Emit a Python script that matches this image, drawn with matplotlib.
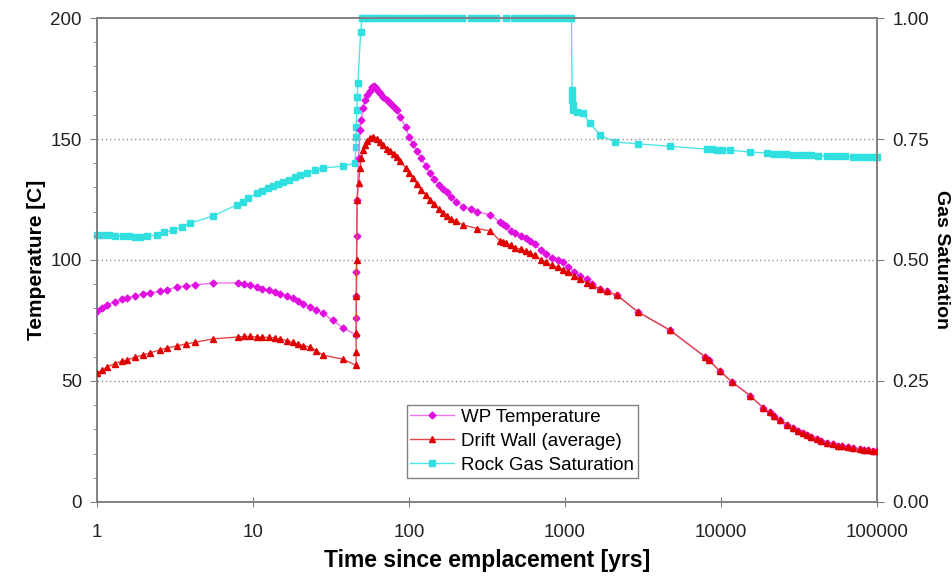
import numpy as np
import matplotlib
matplotlib.use("Agg")
import matplotlib.pyplot as plt
from matplotlib.ticker import FixedLocator, MultipleLocator, NullLocator, FormatStrFormatter

plt.rcParams['font.family'] = ['Liberation Sans', 'DejaVu Sans']

# WP temperature (magenta diamonds)
wp_t = [1.0, 1.08, 1.16, 1.3, 1.45, 1.56, 1.75, 1.97, 2.2, 2.53, 2.8, 3.26, 3.7, 4.25, 5.54, 8.0, 8.8, 9.6,
        10.6, 11.5, 12.6, 13.8, 15.0, 16.5, 18.0, 19.5, 21.0, 23.2, 25.5, 28.1, 32.6, 37.7, 45.7,
        45.8, 45.9, 46.0, 46.2, 46.5, 47.5, 48.5, 49.5, 50.7, 52.0, 54.0, 56.0, 57.9, 59.5, 61.0, 63.0, 65.2,
        68.0, 72.0, 75.0, 78.0, 81.0, 83.8, 88.0, 95.0, 100, 106, 112, 120, 128, 136, 145,
        155, 165, 175, 187, 200, 222, 250, 273, 331, 383, 400, 420, 450, 480, 520, 560, 597, 640, 700, 760,
        820, 900, 971, 1050, 1150, 1250, 1384, 1500, 1676, 1850, 2154, 2938, 4710, 7890, 8400, 9860, 11770,
        15340, 18580, 20500, 22000, 24000, 26500, 29000, 31000, 33500, 35560, 38000, 41000, 44000, 47800,
        52000, 56000, 60000, 65000, 70000, 77800, 83000, 88000, 94000, 100000]
wp_temp = [79, 80.2, 81.4, 82.8, 83.8, 84.3, 85.2, 86, 86.5, 87, 87.8, 88.8, 89.2, 89.7, 90.5, 90.5, 90.1, 89.5,
           88.8, 88.2, 87.5, 86.8, 86.0, 85.2, 84.3, 83.2, 82.0, 80.6, 79.3, 78, 75, 72, 69,
           76, 85, 95, 110, 125, 142, 153.7, 158, 163, 166, 168, 170, 171.5, 171.8, 171, 170, 169,
           167.5, 166, 165, 164, 163, 162, 159, 155, 151, 148, 145, 142, 139, 136, 133.5,
           131, 129.5, 128, 126, 124, 122, 121, 120, 118.6, 115.7, 115, 114, 112, 111, 110, 109, 108, 106.5, 104, 102.5,
           101, 100, 99, 97, 95, 93.5, 92, 90, 88, 87, 85.5, 78.5, 71, 60, 58.5, 54, 49.6,
           44, 39, 37, 35.5, 34, 32, 30.5, 29.5, 28.5, 27.7, 27, 26, 25.2, 24.4,
           23.8, 23.3, 23, 22.6, 22.2, 21.8, 21.6, 21.4, 21.2, 21]

# Drift wall average (red triangles)
dw_t = [1.0, 1.08, 1.16, 1.3, 1.45, 1.56, 1.75, 1.97, 2.2, 2.53, 2.8, 3.26, 3.7, 4.25, 5.54, 8.0, 8.8, 9.6,
        10.6, 11.5, 12.6, 13.8, 15.0, 16.5, 18.0, 19.5, 21.0, 23.2, 25.5, 28.1, 37.7, 45.7,
        45.8, 45.9, 46.0, 46.2, 46.5, 47.5, 48.5, 49.5, 50.7, 52.0, 54.0, 56.0, 59.0, 62.0, 65.2,
        68.0, 72.0, 76.0, 80.0, 83.8, 88.0, 95.0, 100, 106, 112, 120, 128, 136, 145,
        155, 165, 175, 187, 200, 222, 273, 331, 383, 400, 420, 450, 480, 520, 560, 597, 640, 700, 760,
        820, 900, 971, 1050, 1150, 1250, 1384, 1500, 1676, 1850, 2154, 2938, 4710, 7890, 8400, 9860, 11770,
        15340, 18580, 20500, 22000, 24000, 26500, 29000, 31000, 33500, 35560, 38000, 41000, 44000, 47800,
        52000, 56000, 60000, 65000, 70000, 77800, 83000, 88000, 94000, 100000]
dw_temp = [53.3, 54.5, 55.8, 57.2, 58.2, 58.7, 59.8, 60.7, 61.7, 62.8, 63.6, 64.5, 65.3, 66, 67.4, 68.2, 68.4, 68.4,
           68.2, 68.1, 68.0, 67.8, 67.3, 66.7, 66, 65.2, 64.6, 64, 62.5, 60.7, 59, 56.5,
           62, 70, 85, 100, 125, 132, 138, 142, 145.5, 147.5, 149, 150.5, 151, 150, 148.8,
           147.5, 146, 145, 144, 142.6, 141, 138, 136, 134, 131.5, 129, 127, 125, 123,
           121, 119.5, 118, 117, 116, 114.5, 113, 112, 108, 107.5, 107, 106, 105, 104.5, 103.7, 103, 102, 100, 99,
           98, 97, 96, 95, 93.5, 92, 90.5, 89.5, 88, 87, 85.5, 78.5, 71, 60, 58.5, 54, 49.6,
           44, 39, 37, 35.5, 34, 32, 30.5, 29.5, 28.5, 27.7, 27, 26, 25.2, 24.4,
           23.8, 23.3, 23, 22.6, 22.2, 21.8, 21.6, 21.4, 21.2, 21]

# Rock gas saturation (cyan squares, right axis)
gs_t = [1.0, 1.1, 1.2, 1.3, 1.47, 1.6, 1.75, 1.89, 2.1, 2.42, 2.7, 3.07, 3.5, 3.94, 5.54, 7.9, 8.6, 9.3, 10.6,
        11.5, 12.5, 13.5, 14.5, 15.6, 17.0, 18.5, 20.0, 22.2, 25.0, 28.1, 37.7, 45.0,
        45.6, 45.8, 46.0, 46.3, 46.6, 47.0, 49.0, 50, 53, 56, 60, 65, 70, 76, 82, 90, 100, 110, 120, 130, 140,
        150, 165, 180, 200, 220, 250, 275, 300, 330, 360, 420, 470, 520, 570, 620, 680, 740, 800, 870,
        950, 1020, 1100, 1109, 1112, 1115, 1120, 1125, 1200, 1304, 1445, 1676, 2093, 2938, 4710, 8130, 8700, 9400,
        10200, 11420, 15340, 19720, 22000, 24000, 26000, 28950, 32000, 35000, 38000, 42000, 47800, 52000,
        57000, 62000, 70200, 78000, 86000, 93000, 100000]
gas_sat = [0.552, 0.551, 0.551, 0.55, 0.55, 0.549, 0.548, 0.547, 0.549, 0.552, 0.557, 0.562, 0.569, 0.576, 0.591,
           0.614, 0.62, 0.628, 0.638, 0.643, 0.648, 0.653, 0.657, 0.661, 0.666, 0.671, 0.675, 0.68, 0.685,
           0.69, 0.694, 0.70,
           0.733, 0.755, 0.775, 0.81, 0.837, 0.866, 0.971, 1.0, 1.0, 1.0, 1.0, 1.0, 1.0, 1.0, 1.0, 1.0, 1.0,
           1.0, 1.0, 1.0, 1.0, 1.0, 1.0, 1.0, 1.0, 1.0, 1.0, 1.0, 1.0, 1.0, 1.0, 1.0, 1.0, 1.0, 1.0, 1.0,
           1.0, 1.0, 1.0, 1.0, 1.0, 1.0, 1.0, 0.851, 0.84, 0.83, 0.82, 0.81, 0.806, 0.803, 0.783, 0.758,
           0.744, 0.74, 0.735, 0.729, 0.729, 0.728, 0.728, 0.727, 0.723, 0.721, 0.72, 0.72, 0.719, 0.717,
           0.717, 0.716, 0.716, 0.715, 0.715, 0.714, 0.714, 0.714, 0.713, 0.713, 0.713, 0.712, 0.712]

x_ticks = [1, 10, 100, 1000, 10000, 100000]

fig = plt.figure(figsize=(9.52, 5.81), dpi=100)
ax = fig.add_axes([0.1019, 0.136, 0.8193, 0.833])
ax2 = ax.twinx()

l1, = ax.plot(wp_t, wp_temp, color='#f070f0', lw=1, marker='D', ms=3.5,
              mfc='#e010e0', mec='#e010e0', label='WP Temperature', zorder=3)
l2, = ax.plot(dw_t, dw_temp, color='#e04848', lw=1, marker='^', ms=5,
              mfc='#e00000', mec='#e00000', label='Drift Wall (average)', zorder=4)
l3, = ax2.plot(gs_t, gas_sat, color='#50e4e4', lw=1, marker='s', ms=4.2,
               mfc='#30e0e0', mec='#30e0e0', label='Rock Gas Saturation', zorder=2,
               clip_on=False)

ax.set_xscale('log')
ax.set_xlim(1, 100000)
ax.set_ylim(0, 200)
ax2.set_ylim(0, 1.0)
ax.xaxis.set_major_locator(FixedLocator(x_ticks))
ax.xaxis.set_minor_locator(NullLocator())
ax.set_xticklabels([str(v) for v in x_ticks])
ax.yaxis.set_major_locator(MultipleLocator(50))
ax.yaxis.set_minor_locator(MultipleLocator(10))
ax2.yaxis.set_major_locator(MultipleLocator(0.25))
ax2.yaxis.set_major_formatter(FormatStrFormatter('%.2f'))

for y in [50, 100, 150]:
    ax.axhline(y, color='#909090', lw=1, ls=(0, (1, 2)), zorder=1)

for a in (ax, ax2):
    for s in a.spines.values():
        s.set_color('#808080')
        s.set_linewidth(1.2)
ax.tick_params(axis='x', direction='inout', length=7, color='#808080', labelsize=13.5,
               labelcolor='#222222', pad=12)
ax.tick_params(axis='y', which='major', direction='out', length=5, color='#808080', labelsize=13.5,
               labelcolor='#222222', pad=6)
ax.tick_params(axis='y', which='minor', direction='out', length=3, color='#808080')
ax2.tick_params(axis='y', direction='out', length=5, color='#808080', labelsize=13.5,
                labelcolor='#222222', pad=6)

ax.set_xlabel('Time since emplacement [yrs]', fontsize=16.5, fontweight='bold', labelpad=6)
ax.set_ylabel('Temperature [C]', fontsize=15, fontweight='bold', labelpad=3)
ax2.set_ylabel('Gas Saturation', fontsize=14, fontweight='bold', rotation=-90, va='bottom',
               labelpad=3)

ax.set_zorder(ax2.get_zorder() + 1)
ax.patch.set_visible(False)

leg = ax.legend(handles=[l1, l2, l3], loc='lower left', bbox_to_anchor=(0.397, 0.05),
                fontsize=13.5, frameon=True, fancybox=False, handlelength=2.3,
                borderpad=0.2, labelspacing=0.38, handletextpad=0.4, borderaxespad=0)
leg.get_frame().set_edgecolor('#606060')
leg.get_frame().set_linewidth(1)

fig.savefig('out.png', dpi=100)
